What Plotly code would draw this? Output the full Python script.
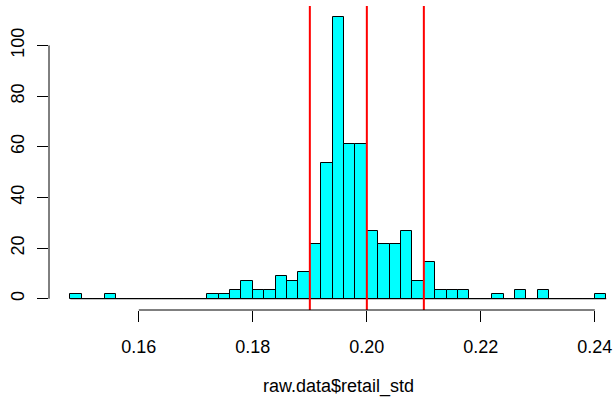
import plotly.graph_objects as go

# Histogram bins (left edges) of raw.data$retail_std, bin width 0.002
bin_start = 0.148
bin_width = 0.002
counts = [1, 0, 0, 1, 0, 0, 0, 0, 0, 0, 0, 0, 1, 1, 2, 4, 2, 2, 5, 4, 6, 12,
          30, 62, 34, 34, 15, 12, 12, 15, 4, 8, 2, 2, 2, 0, 0, 1, 0, 2, 0, 2,
          0, 0, 0, 0, 1]
vlines = [0.19, 0.20, 0.21]
x_ticks = [0.16, 0.18, 0.20, 0.22, 0.24]
x_tick_labels = ["0.16", "0.18", "0.20", "0.22", "0.24"]
y_ticks = [0, 20, 40, 60, 80, 100]
x_title = "raw.data$retail_std"

n_total = sum(counts)
centers = [bin_start + bin_width * (i + 0.5) for i in range(len(counts))]
density = [c / (n_total * bin_width) for c in counts]
lo = bin_start
hi = bin_start + bin_width * len(counts)
ext = 0.04 * (hi - lo)
ymax = max(density)

FONT = "Liberation Sans, Arial, Helvetica, sans-serif"
FS = 18

fig = go.Figure()
fig.add_trace(go.Bar(
    x=centers, y=density, width=[bin_width] * len(counts),
    marker=dict(color="#00FFFF", line=dict(color="black", width=1)),
    hoverinfo="skip",
))

shapes = []
# baseline through empty bins (R draws zero-height rects)
shapes.append(dict(type="line", xref="x", yref="y", x0=lo, x1=hi, y0=0, y1=0,
                   line=dict(color="black", width=1)))
for v in vlines:
    shapes.append(dict(type="line", xref="x", yref="paper", x0=v, x1=v, y0=0, y1=1,
                       line=dict(color="red", width=2)))
# axis lines spanning only the ticks (R style)
shapes.append(dict(type="line", xref="x", yref="paper", x0=x_ticks[0], x1=x_ticks[-1],
                   y0=0, y1=0, line=dict(color="black", width=1)))
shapes.append(dict(type="line", xref="paper", yref="y", x0=0, x1=0,
                   y0=y_ticks[0], y1=y_ticks[-1], line=dict(color="black", width=1)))

fig.update_layout(
    width=616, height=402,
    margin=dict(l=49, r=0, t=6, b=92, pad=0),
    paper_bgcolor="white", plot_bgcolor="white",
    showlegend=False, bargap=0,
    font=dict(family=FONT, size=FS, color="black"),
    shapes=shapes,
    xaxis=dict(range=[lo - ext, 0.24371], tickvals=x_ticks, ticktext=x_tick_labels,
               ticks="outside", ticklen=11, tickcolor="black", tickwidth=1,
               showgrid=False, zeroline=False, showline=False, automargin=False,
               tickfont=dict(family=FONT, size=FS, color="black"),
               ticklabelstandoff=9),
    yaxis=dict(range=[-0.04 * ymax, 1.04 * ymax], tickvals=y_ticks,
               ticks="outside", ticklen=11, tickcolor="black", tickwidth=1,
               showgrid=False, zeroline=False, showline=False, tickangle=-90,
               automargin=False,
               tickfont=dict(family=FONT, size=FS, color="black"),
               ticklabelstandoff=6),
    annotations=[dict(text=x_title, xref="x", yref="paper", x=(lo + hi) / 2,
                      y=(310 - 386) / 304, xanchor="center", yanchor="middle",
                      showarrow=False, font=dict(family=FONT, size=FS, color="black"))],
)

fig.write_html("out.html", config={"displayModeBar": False},
               post_script="document.body.style.margin='0';document.body.style.overflow='hidden';")
